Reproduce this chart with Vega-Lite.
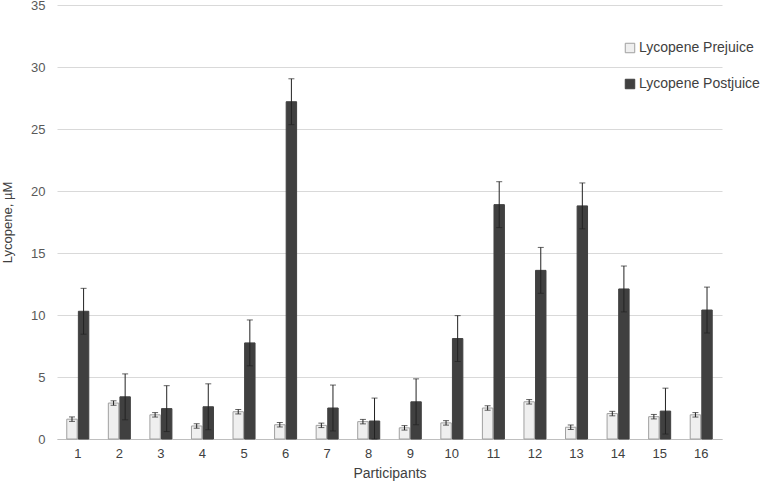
{
  "$schema": "https://vega.github.io/schema/vega-lite/v6.json",
  "width": 665,
  "height": 434,
  "autosize": "none",
  "padding": {"left": 57, "top": 5, "right": 42, "bottom": 44},
  "background": "white",
  "config": {
    "font": "Liberation Sans",
    "view": {"stroke": null}
  },
  "data": {
    "values": [
      {"p": "1", "s": "Lycopene Prejuice", "v": 1.6, "lo": 1.42, "hi": 1.78},
      {"p": "2", "s": "Lycopene Prejuice", "v": 2.9, "lo": 2.72, "hi": 3.08},
      {"p": "3", "s": "Lycopene Prejuice", "v": 1.95, "lo": 1.77, "hi": 2.13},
      {"p": "4", "s": "Lycopene Prejuice", "v": 1.05, "lo": 0.87, "hi": 1.23},
      {"p": "5", "s": "Lycopene Prejuice", "v": 2.2, "lo": 2.02, "hi": 2.38},
      {"p": "6", "s": "Lycopene Prejuice", "v": 1.15, "lo": 0.97, "hi": 1.33},
      {"p": "7", "s": "Lycopene Prejuice", "v": 1.1, "lo": 0.92, "hi": 1.28},
      {"p": "8", "s": "Lycopene Prejuice", "v": 1.4, "lo": 1.22, "hi": 1.58},
      {"p": "9", "s": "Lycopene Prejuice", "v": 0.9, "lo": 0.72, "hi": 1.08},
      {"p": "10", "s": "Lycopene Prejuice", "v": 1.3, "lo": 1.12, "hi": 1.48},
      {"p": "11", "s": "Lycopene Prejuice", "v": 2.5, "lo": 2.32, "hi": 2.68},
      {"p": "12", "s": "Lycopene Prejuice", "v": 3.0, "lo": 2.82, "hi": 3.18},
      {"p": "13", "s": "Lycopene Prejuice", "v": 0.95, "lo": 0.77, "hi": 1.13},
      {"p": "14", "s": "Lycopene Prejuice", "v": 2.05, "lo": 1.87, "hi": 2.23},
      {"p": "15", "s": "Lycopene Prejuice", "v": 1.8, "lo": 1.62, "hi": 1.98},
      {"p": "16", "s": "Lycopene Prejuice", "v": 1.95, "lo": 1.77, "hi": 2.13},
      {"p": "1", "s": "Lycopene Postjuice", "v": 10.3, "lo": 8.45, "hi": 12.15},
      {"p": "2", "s": "Lycopene Postjuice", "v": 3.4, "lo": 1.55, "hi": 5.25},
      {"p": "3", "s": "Lycopene Postjuice", "v": 2.45, "lo": 0.6, "hi": 4.3},
      {"p": "4", "s": "Lycopene Postjuice", "v": 2.6, "lo": 0.75, "hi": 4.45},
      {"p": "5", "s": "Lycopene Postjuice", "v": 7.75, "lo": 5.9, "hi": 9.6},
      {"p": "6", "s": "Lycopene Postjuice", "v": 27.2, "lo": 25.35, "hi": 29.05},
      {"p": "7", "s": "Lycopene Postjuice", "v": 2.5, "lo": 0.65, "hi": 4.35},
      {"p": "8", "s": "Lycopene Postjuice", "v": 1.45, "lo": 0.0, "hi": 3.3},
      {"p": "9", "s": "Lycopene Postjuice", "v": 3.0, "lo": 1.15, "hi": 4.85},
      {"p": "10", "s": "Lycopene Postjuice", "v": 8.1, "lo": 6.25, "hi": 9.95},
      {"p": "11", "s": "Lycopene Postjuice", "v": 18.9, "lo": 17.05, "hi": 20.75},
      {"p": "12", "s": "Lycopene Postjuice", "v": 13.6, "lo": 11.75, "hi": 15.45},
      {"p": "13", "s": "Lycopene Postjuice", "v": 18.8, "lo": 16.95, "hi": 20.65},
      {"p": "14", "s": "Lycopene Postjuice", "v": 12.1, "lo": 10.25, "hi": 13.95},
      {"p": "15", "s": "Lycopene Postjuice", "v": 2.25, "lo": 0.4, "hi": 4.1},
      {"p": "16", "s": "Lycopene Postjuice", "v": 10.4, "lo": 8.55, "hi": 12.25}
    ]
  },
  "encoding": {
    "x": {
      "field": "p",
      "type": "ordinal",
      "sort": null,
      "scale": {"paddingInner": 0.47, "paddingOuter": 0.235},
      "axis": {
        "title": "Participants",
        "titleFontSize": 14,
        "titleFontWeight": "normal",
        "titleColor": "#404040",
        "titlePadding": 6,
        "labelAngle": 0,
        "labelFontSize": 13,
        "labelColor": "#404040",
        "labelPadding": 8,
        "ticks": false,
        "domainColor": "#bfbfbf",
        "grid": false
      }
    },
    "xOffset": {
      "field": "s",
      "type": "nominal",
      "scale": {"domain": ["Lycopene Prejuice", "Lycopene Postjuice"], "paddingInner": 0.1}
    }
  },
  "layer": [
    {
      "mark": {"type": "bar", "strokeWidth": 1},
      "encoding": {
        "y": {
          "field": "v",
          "type": "quantitative",
          "scale": {"domain": [0, 35]},
          "axis": {
            "title": "Lycopene, µM",
            "titleFontSize": 13,
            "titleFontWeight": "normal",
            "titleColor": "#404040",
            "titlePadding": 16,
            "values": [0, 5, 10, 15, 20, 25, 30, 35],
            "labelFontSize": 13,
            "labelColor": "#595959",
            "labelPadding": 12,
            "ticks": false,
            "domain": false,
            "gridColor": "#d9d9d9"
          }
        },
        "color": {
          "field": "s",
          "type": "nominal",
          "scale": {"domain": ["Lycopene Prejuice", "Lycopene Postjuice"], "range": ["#efefef", "#404040"]},
          "legend": {
            "title": null,
            "orient": "none",
            "legendX": 566,
            "legendY": 36,
            "symbolType": "square",
            "symbolSize": 90,
            "symbolStrokeColor": "#8c8c8c",
            "symbolStrokeWidth": 1,
            "labelFontSize": 14,
            "labelColor": "#404040",
            "rowPadding": 22,
            "labelOffset": 2
          }
        },
        "stroke": {
          "field": "s",
          "type": "nominal",
          "scale": {"domain": ["Lycopene Prejuice", "Lycopene Postjuice"], "range": ["#a0a0a0", "#404040"]},
          "legend": null
        }
      }
    },
    {
      "mark": {"type": "rule", "color": "#222222", "strokeWidth": 1},
      "encoding": {
        "y": {"field": "lo", "type": "quantitative"},
        "y2": {"field": "hi"}
      }
    },
    {
      "mark": {"type": "tick", "color": "#222222", "thickness": 1, "size": 6},
      "encoding": {
        "y": {"field": "lo", "type": "quantitative"}
      }
    },
    {
      "mark": {"type": "tick", "color": "#222222", "thickness": 1, "size": 6},
      "encoding": {
        "y": {"field": "hi", "type": "quantitative"}
      }
    }
  ]
}
